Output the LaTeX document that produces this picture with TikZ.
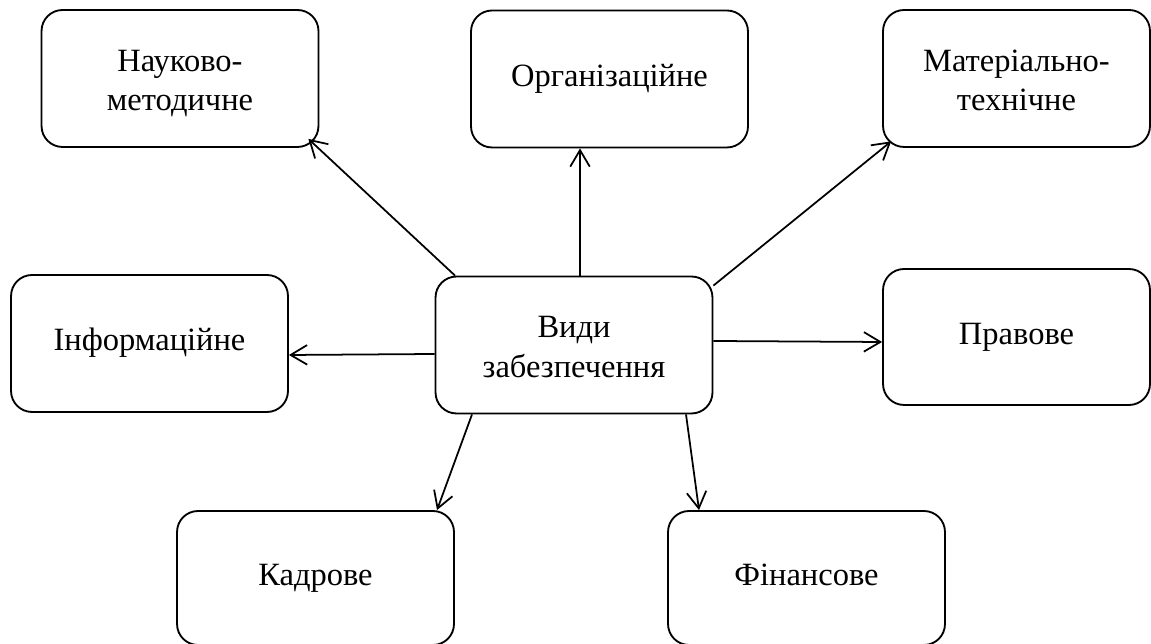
\documentclass[tikz,border=0pt]{standalone}
\usepackage{fontspec}
\setmainfont{Liberation Serif}
\usetikzlibrary{positioning,calc,arrows.meta}
\tikzset{
 box/.style
  = {rectangle, draw, rounded corners=0.42cm, line width=1.05pt, align=center,
     minimum width=5.54cm, minimum height=2.74cm, inner sep=0pt,
     text height=0.95em, text depth=0.1em,
     font=\fontsize{18.5}{22.6}\selectfont},
 two/.style
  = {text height={}, text depth={},
     execute at begin node={\rule{0pt}{2.2em}},
     execute at end node={\rule[-0.2em]{0pt}{0pt}}},
 l/.style
  = {draw, line width=1pt, -{Straight Barb[length=3.3mm,width=3.9mm,line width=1pt]}},
}
\begin{document}
\begin{tikzpicture}[x=0.02cm, y=0.02cm]
\useasboundingbox (0,0) rectangle (1151,644);

% Central node
\node[box, two] (vid) at (574,299) {Види\\забезпечення};

% Upper row
\node[box, two] (nauk) at (180,565.5) {Науково-\\методичне};
\node[box] (org) at (609.5,565) {Організаційне};
\node[box, two, minimum width=5.34cm] (mat) at (1016.5,565.5) {Матеріально-\\технічне};

% Middle row
\node[box] (inf) at (149.5,300.5) {Інформаційне};
\node[box, minimum width=5.34cm, minimum height=2.72cm] (prav) at (1016.5,307) {Правове};

% Lower row
\node[box, minimum height=2.68cm] (kadr) at (315.5,66) {Кадрове};
\node[box, minimum height=2.68cm] (fin) at (806.5,66) {Фінансове};

% Connectors
\path[l] ($(vid.north)+(-119,0)$) -- ($(nauk.south east)+(-11,9)$);
\path[l] ($(vid.north)+(6,0)$) -- ($(org.south)+(-29.5,0)$);
\path[l] ($(vid.north east)+(0,-10)$) -- ($(mat.south west)+(9,6.5)$);
\path[l] ($(vid.east)+(0,4)$) -- ($(prav.west)+(0,-5)$);
\path[l] ($(vid.west)+(0,-9)$) -- ($(inf.east)+(0,-11.5)$);
\path[l] ($(vid.south)+(-102,0)$) -- ($(kadr.north)+(121.5,0)$);
\path[l] ($(vid.south)+(112,0)$) -- ($(fin.north)+(-107.5,0)$);

\end{tikzpicture}
\end{document}
